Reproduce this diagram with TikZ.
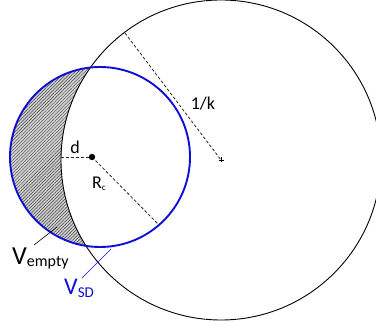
\documentclass[tikz,border=0pt]{standalone}
\usepackage{fontspec}
\setmainfont{Carlito}
\usetikzlibrary{patterns.meta,calc}
\definecolor{vblue}{RGB}{15,15,215}
\begin{document}
\begin{tikzpicture}[x=1pt,y=-1pt,
  dline/.style={dash pattern=on 3pt off 2pt, line width=0.8pt, black!85},
  lbl/.style={inner sep=0pt, font=\fontsize{18}{18}\selectfont}]
\useasboundingbox (0,0) rectangle (376,329);
\clip (0,0) rectangle (376,329);
\fill[white] (0,0) rectangle (376,329);
\coordinate (K) at (221,160);
\coordinate (C) at (100,157);
\coordinate (D) at (92,157);
% hatched crescent
\begin{scope}
  \clip (C) circle (90pt);
  \fill[gray!35, even odd rule] (-10,-10) rectangle (400,400) (K) circle (160pt);
  \fill[pattern={Lines[angle=45,distance=2.3pt,line width=0.5pt]}, pattern color=black!75, even odd rule] (-10,-10) rectangle (400,400) (K) circle (160pt);
\end{scope}
% circles
\draw[line width=0.9pt] (K) circle (160pt);
\draw[vblue, line width=1.9pt] (C) circle (90pt);
% dashed radii
\coordinate (T) at (125,33);
\coordinate (R) at (158,224);
\coordinate (L) at (61,157);
\draw[dline] (T) -- (K);
\draw[dline] (D) -- (R);
\draw[dline] (L) -- (D);
\fill (D) circle (3.2pt);
\draw[line width=0.6pt] ($(K)+(-2.5,0)$) -- ($(K)+(2.5,0)$) ($(K)+(0,-2.5)$) -- ($(K)+(0,2.5)$);
% labels
\node[lbl] (dl) at (75,147) {d};
\node[lbl] (kl) at (203,104) {1/k};
\node[lbl, anchor=base west] (rc) at (92,189) {R\fontsize{9}{9}\selectfont\raisebox{-2pt}{c}};
\node[anchor=base west, inner sep=0pt] (ve) at (12,265) {\fontsize{26}{26}\selectfont V\fontsize{16}{16}\selectfont\raisebox{-2pt}{empty}};
\node[anchor=base west, inner sep=0pt, text=vblue] (vs) at (64,295) {\fontsize{24}{24}\selectfont V\fontsize{15}{15}\selectfont\raisebox{-3pt}{SD}};
\coordinate (ve0) at (57,227);
\coordinate (ve1) at (34,245);
\coordinate (vs0) at (111,249);
\coordinate (vs1) at (82,278);
\draw[line width=0.6pt] (ve0) -- (ve1);
\draw[vblue, line width=0.6pt] (vs0) -- (vs1);
\end{tikzpicture}
\end{document}
